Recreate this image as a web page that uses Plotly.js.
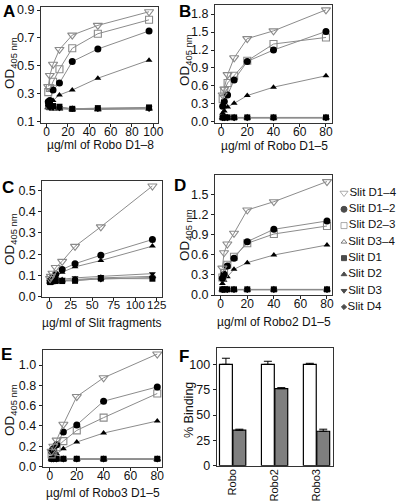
<!DOCTYPE html>
<html><head><meta charset="utf-8">
<script src="https://cdn.plot.ly/plotly-3.0.1.min.js"></script>
<style>html,body{margin:0;padding:0;background:#fff}#chart{width:400px;height:502px}</style>
</head><body><div id="chart"></div>
<script>
// ---------- data ----------
const slitNames = ['Slit D1–4','Slit D1–2','Slit D2–3','Slit D3–4','Slit D1','Slit D2','Slit D3','Slit D4'];

// Panel A: Robo D1–8
const A_x   = [1.5, 3, 6, 12, 24, 48, 96];
const A_D14 = [0.35, 0.43, 0.51, 0.617, 0.72, 0.79, 0.888];
const A_D12 = [0.24, 0.25, 0.325, 0.375, 0.53, 0.62, 0.75];
const A_D23 = [0.31, 0.34, 0.385, 0.475, 0.625, 0.73, 0.83];
const A_D34 = [0.20, 0.195, 0.19, 0.19, 0.185, 0.185, 0.19];
const A_D1  = [0.23, 0.22, 0.21, 0.205, 0.19, 0.195, 0.20];
const A_D2  = [0.22, 0.235, 0.25, 0.29, 0.325, 0.41, 0.54];
const A_D3  = [0.22, 0.21, 0.20, 0.20, 0.19, 0.19, 0.195];
const A_D4  = [0.21, 0.20, 0.20, 0.195, 0.19, 0.19, 0.19];

// Panel B: Robo D1–5
const B_x   = [1.25, 2.5, 5, 10, 20, 40, 80];
const B_D14 = [0.45, 0.55, 0.79, 1.07, 1.39, 1.52, 1.87];
const B_D12 = [0.26, 0.34, 0.45, 0.70, 1.01, 1.20, 1.51];
const B_D23 = [0.38, 0.52, 0.65, 0.77, 1.02, 1.30, 1.41];
const B_D34 = [0.07, 0.07, 0.07, 0.07, 0.07, 0.07, 0.07];
const B_D1  = [0.075, 0.075, 0.075, 0.075, 0.075, 0.075, 0.075];
const B_D2  = [0.15, 0.18, 0.25, 0.31, 0.44, 0.58, 0.77];
const B_D3  = [0.07, 0.07, 0.07, 0.07, 0.07, 0.07, 0.07];
const B_D4  = [0.065, 0.065, 0.065, 0.065, 0.065, 0.065, 0.065];

// Panel C: Slit fragments
const C_x   = [0.9375, 1.875, 3.75, 7.5, 15, 30, 60, 120];
const C_D14 = [0.085, 0.095, 0.11, 0.137, 0.166, 0.237, 0.329, 0.522];
const C_D12 = [0.075, 0.08, 0.09, 0.105, 0.128, 0.155, 0.195, 0.269];
const C_D34 = [0.069, 0.07, 0.072, 0.074, 0.076, 0.08, 0.088, 0.095];
const C_D1  = [0.068, 0.07, 0.072, 0.073, 0.073, 0.074, 0.085, 0.084];
const C_D2  = [0.072, 0.077, 0.085, 0.095, 0.115, 0.14, 0.17, 0.238];
const C_D3  = [0.07, 0.072, 0.075, 0.078, 0.082, 0.088, 0.095, 0.108];
const C_D4  = [0.07, 0.071, 0.073, 0.075, 0.076, 0.078, 0.082, 0.09];

// Panel D: Robo2 D1–5
const D_x   = [1.25, 2.5, 5, 10, 20, 40, 80];
const D_D14 = [0.40, 0.63, 0.76, 0.92, 1.267, 1.39, 1.69];
const D_D12 = [0.248, 0.308, 0.432, 0.546, 0.795, 0.979, 1.103];
const D_D23 = [0.26, 0.33, 0.45, 0.571, 0.77, 0.909, 1.028];
const D_D34 = [0.08, 0.08, 0.08, 0.08, 0.08, 0.08, 0.08];
const D_D1  = [0.084, 0.084, 0.084, 0.084, 0.084, 0.084, 0.084];
const D_D2  = [0.17, 0.22, 0.273, 0.382, 0.482, 0.596, 0.745];
const D_D3  = [0.08, 0.08, 0.08, 0.08, 0.08, 0.08, 0.08];
const D_D4  = [0.078, 0.078, 0.078, 0.078, 0.078, 0.078, 0.078];

// Panel E: Robo3 D1–5
const E_x   = [1.25, 2.5, 5, 10, 20, 40, 80];
const E_D14 = [0.15, 0.20, 0.26, 0.416, 0.69, 0.875, 1.109];
const E_D12 = [0.15, 0.175, 0.215, 0.34, 0.41, 0.644, 0.785];
const E_D23 = [0.12, 0.15, 0.19, 0.25, 0.356, 0.482, 0.72];
const E_D34 = [0.072, 0.072, 0.072, 0.072, 0.072, 0.072, 0.072];
const E_D1  = [0.076, 0.076, 0.076, 0.076, 0.076, 0.076, 0.076];
const E_D2  = [0.085, 0.10, 0.125, 0.175, 0.241, 0.33, 0.449];
const E_D3  = [0.074, 0.074, 0.074, 0.074, 0.074, 0.074, 0.074];
const E_D4  = [0.072, 0.072, 0.072, 0.072, 0.072, 0.072, 0.072];

// Panel F: % binding
const F_cats    = ['Robo', 'Robo2', 'Robo3'];
const F_white   = [100, 100, 100];
const F_whiteErr= [6, 3, 1];
const F_gray    = [35, 76, 34];
const F_grayErr = [1, 1, 2];

// axis titles
const xTitles = ['µg/ml of Robo D1–8','µg/ml of Robo D1–5','µg/ml of Slit fragments','µg/ml of Robo2 D1–5','µg/ml of Robo3 D1–5'];
const yTitleOD = 'OD<sub>405 nm</sub>';
const yTitleF  = '% Binding';
const panelLetters = ['A','B','C','D','E','F'];

// ---------- styles ----------
const styles = [
  {symbol:'triangle-down-open', color:'#8a8a8a', size:8},
  {symbol:'circle', color:'#000', size:7},
  {symbol:'square-open', color:'#8a8a8a', size:7},
  {symbol:'triangle-up-open', color:'#444', size:6},
  {symbol:'square', color:'#000', size:6},
  {symbol:'triangle-up', color:'#000', size:6},
  {symbol:'triangle-down', color:'#000', size:6},
  {symbol:'diamond', color:'#000', size:5}
];

const panels = [
  {xa:'x',  ya:'y',  xs:A_x, ser:[A_D14,A_D12,A_D23,A_D34,A_D1,A_D2,A_D3,A_D4]},
  {xa:'x2', ya:'y2', xs:B_x, ser:[B_D14,B_D12,B_D23,B_D34,B_D1,B_D2,B_D3,B_D4]},
  {xa:'x3', ya:'y3', xs:C_x, ser:[C_D14,C_D12,null,C_D34,C_D1,C_D2,C_D3,C_D4]},
  {xa:'x4', ya:'y4', xs:D_x, ser:[D_D14,D_D12,D_D23,D_D34,D_D1,D_D2,D_D3,D_D4]},
  {xa:'x5', ya:'y5', xs:E_x, ser:[E_D14,E_D12,E_D23,E_D34,E_D1,E_D2,E_D3,E_D4]}
];

const FONT = 'Liberation Sans, Arial, sans-serif';

const traces = [];
const order = [3,6,7,4,5,2,1,0];
panels.forEach(p => {
  order.forEach(i => {
    const ys = p.ser[i];
    if (!ys) return;
    const st = styles[i];
    traces.push({
      type:'scatter', mode:'lines+markers', name:slitNames[i],
      x:p.xs, y:ys, xaxis:p.xa, yaxis:p.ya, showlegend:false, cliponaxis:false,
      line:{color:'#8c8c8c', width:1},
      marker:{symbol:st.symbol, size:st.size, color:st.color,
              line:{color:st.color, width: st.symbol.indexOf('open')>=0 ? 1.1 : 0}}
    });
  });
});

const zeros = F_cats.map(() => 0);
traces.push({type:'bar', x:F_cats, y:F_white, xaxis:'x6', yaxis:'y6', showlegend:false,
  marker:{color:'#ffffff', line:{color:'#000', width:1.2}},
  error_y:{type:'data', symmetric:false, array:F_whiteErr, arrayminus:zeros, color:'#000', thickness:1, width:4}});
traces.push({type:'bar', x:F_cats, y:F_gray, xaxis:'x6', yaxis:'y6', showlegend:false,
  marker:{color:'#7f7f7f', line:{color:'#000', width:1.2}},
  error_y:{type:'data', symmetric:false, array:F_grayErr, arrayminus:zeros, color:'#000', thickness:1, width:4}});

// legend drawn as a scatter on hidden axes
traces.push({type:'scatter', mode:'markers+text', xaxis:'x7', yaxis:'y7', showlegend:false,
  x:slitNames.map(() => 0), y:slitNames.map((n,i) => i), text:slitNames,
  textposition:'middle right', cliponaxis:false,
  textfont:{family:FONT, size:11.5, color:'#111'},
  marker:{symbol:styles.map(s => s.symbol), size:styles.map(s => s.size - 1),
          color:styles.map(s => s.color), line:{color:styles.map(s => s.color), width:1}}
});

// ---------- layout ----------
const W = 400, H = 502;
const px = (a,b) => [a/W, b/W];
const py = (top,bot) => [1 - bot/H, 1 - top/H];

function xax(dom, range, tickvals, anchor, fs) {
  return {domain:dom, range:range, anchor:anchor, tickvals:tickvals, ticks:'outside', ticklen:3,
    tickwidth:1, tickcolor:'#222', showline:true, mirror:true, linecolor:'#333', linewidth:1,
    ticklabelstandoff:-5, tickangle:0,
    showgrid:false, zeroline:false, tickfont:{family:FONT, size:fs || 12, color:'#111'}};
}
function yax(dom, range, tickvals, fmt, anchor) {
  return {domain:dom, range:range, anchor:anchor, tickvals:tickvals, tickformat:fmt, ticks:'outside', ticklen:3,
    tickwidth:1, tickcolor:'#222', showline:true, mirror:true, linecolor:'#333', linewidth:1,
    showgrid:false, zeroline:false, tickfont:{family:FONT, size:12.5, color:'#111'}};
}

const ann = [];
[[9,12],[185,12],[8,187],[180,185],[6,354],[184,356]].forEach((p,i) => ann.push({
  text:'<b>'+panelLetters[i]+'</b>', xref:'paper', yref:'paper', x:p[0]/W, y:1-p[1]/H,
  xanchor:'center', yanchor:'middle', showarrow:false, font:{family:FONT, size:17, color:'#000'}}));
[[100,145],[274,146],[102.5,323],[274,322],[103,493]].forEach((p,i) => ann.push({
  text:xTitles[i], xref:'paper', yref:'paper', x:p[0]/W, y:1-p[1]/H,
  xanchor:'center', yanchor:'middle', showarrow:false, font:{family:FONT, size:12, color:'#111'}}));
[[10,63],[185,60],[10,239],[185,235],[10,410]].forEach(p => ann.push({
  text:yTitleOD, xref:'paper', yref:'paper', x:p[0]/W, y:1-p[1]/H, textangle:-90,
  xanchor:'center', yanchor:'middle', showarrow:false, font:{family:FONT, size:13.5, color:'#111'}}));
ann.push({text:yTitleF, xref:'paper', yref:'paper', x:189/W, y:1-410/H, textangle:-90,
  xanchor:'center', yanchor:'middle', showarrow:false, font:{family:FONT, size:12.5, color:'#111'}});

const layout = {
  width:W, height:H, margin:{l:0,r:0,t:0,b:0}, paper_bgcolor:'#fff', plot_bgcolor:'#fff',
  showlegend:false, font:{family:FONT, color:'#111'},
  barmode:'group', bargap:0.36, bargroupgap:0.04,
  xaxis:  xax(px(41,158),  [-5.3,104.4], [0,20,40,60,80,100], 'y'),
  yaxis:  yax(py(7.3,123), [0.088,0.92], [0.1,0.3,0.5,0.7,0.9], '.1f', 'x'),
  xaxis2: xax(px(215,332), [-4.6,84.6], [0,20,40,60,80], 'y2'),
  yaxis2: yax(py(4.5,122.5), [-0.01,1.96], [0,0.3,0.6,0.9,1.2,1.5,1.8], '.1f', 'x2'),
  xaxis3: xax(px(42.3,162.3), [-8.1,131.5], [0,25,50,75,100,125], 'y3', 11.5),
  yaxis3: yax(py(180.7,296.5), [0,0.547], [0,0.1,0.2,0.3,0.4,0.5], '.1f', 'x3'),
  xaxis4: xax(px(215,332.3), [-4.3,84], [0,20,40,60,80], 'y4'),
  yaxis4: yax(py(175,295), [0,1.788], [0,0.3,0.6,0.9,1.2,1.5], '.1f', 'x4'),
  xaxis5: xax(px(42.7,161.7), [-5.4,83.3], [0,20,40,60,80], 'y5'),
  yaxis5: yax(py(350,466.5), [0,1.149], [0,0.2,0.4,0.6,0.8,1.0], '.1f', 'x5'),
  xaxis6: Object.assign(xax(px(216.7,333.3), [-0.38,2.4], undefined, 'y6'),
          {ticks:'', tickangle:-90, ticklabelstandoff:-2, tickfont:{family:FONT, size:11, color:'#111'}}),
  yaxis6: yax(py(348.3,465.7), [0,115.8], [0,25,50,75,100], 'd', 'x6'),
  xaxis7: {domain:px(342,400), range:[-0.5,14], anchor:'y7', visible:false, fixedrange:true},
  yaxis7: {domain:py(185,315), range:[7.491,-0.491], anchor:'x7', visible:false, fixedrange:true},
  annotations: ann
};

Plotly.newPlot('chart', traces, layout, {staticPlot:true, displayModeBar:false});
</script></body></html>
